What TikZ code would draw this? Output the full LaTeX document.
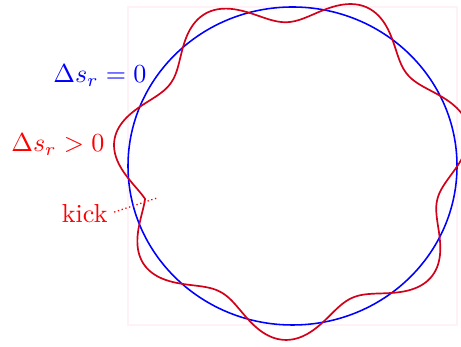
\documentclass[tikz,border=0pt]{standalone}
\usepackage{tikz}

\definecolor{orbitred}{RGB}{210,0,25}
\definecolor{framepink}{RGB}{255,242,246}

\begin{document}
\begin{tikzpicture}[x=0.0135cm, y=-0.0135cm,
    lbl/.style = {inner sep=0pt, font=\fontsize{10}{12}\selectfont},
    ideal/.style = {draw=blue, line width=0.6pt},
    distorted/.style = {draw=orbitred, line width=0.65pt, line join=round},
    kickline/.style = {draw=red, densely dotted, line width=0.5pt, shorten <=2.5pt}]
    \useasboundingbox (0,0) rectangle (461,347);

    % frame and design orbit
    \draw[framepink, line width=0.4pt] (128,7) rectangle (457,325);
    \draw[ideal] (292.5,166) ellipse [x radius=164.5, y radius=159];

    % closed orbit with a kick at 193 degrees, tune 6.82
    \draw[distorted] plot[domain=-180:180, samples=361, variable=\d]
        ({292.5 + 164.5*(1 + 0.095*cos(6.82*(abs(\d)-180)))*cos(193+\d)},
         {166 - 159*(1 + 0.095*cos(6.82*(abs(\d)-180)))*sin(193+\d)});

    \node[lbl, text=blue, anchor=base east] (ds0) at (147,83) {$\Delta s_r = 0$};
    \node[lbl, text=red, anchor=base east] (dsp) at (105,152) {$\Delta s_r > 0$};
    \node[lbl, text=red, anchor=base east] (kicklbl) at (108,223) {kick};
    \coordinate (kickend) at (157,198);

    \draw[kickline] (kicklbl.east) -- (kickend);
\end{tikzpicture}
\end{document}
